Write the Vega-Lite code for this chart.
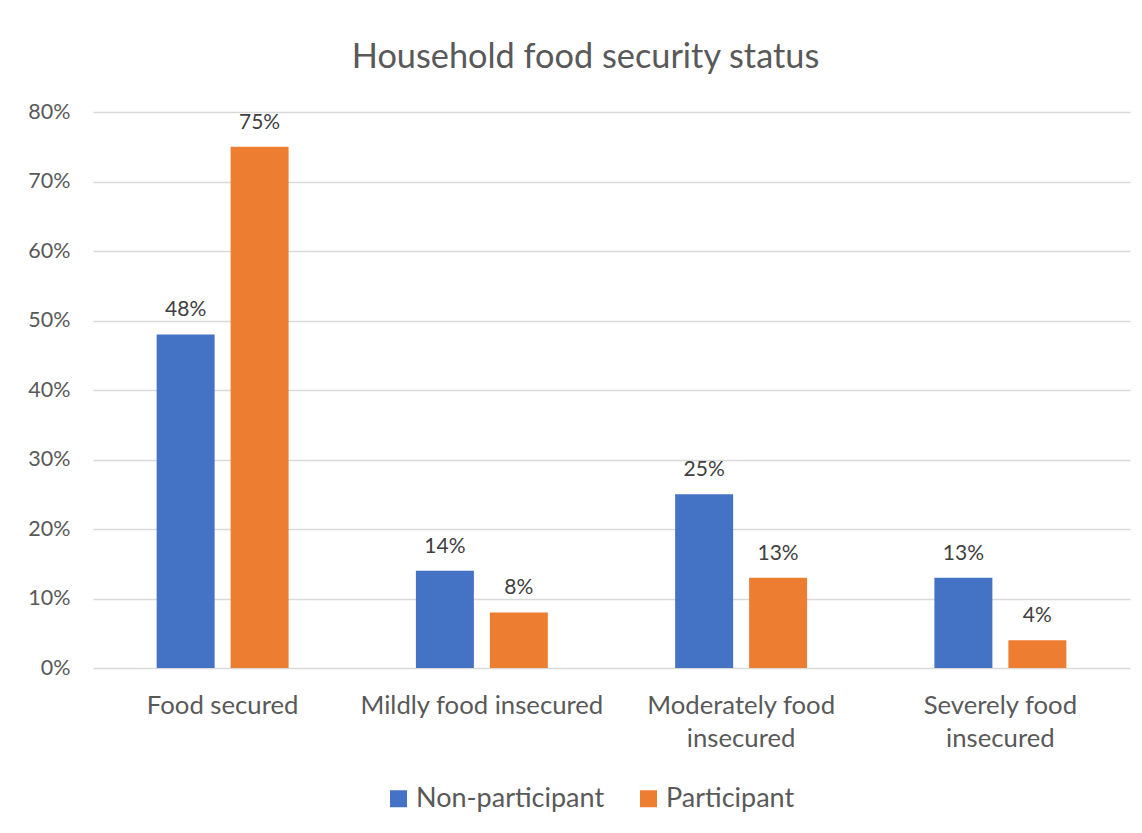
{
  "$schema": "https://vega.github.io/schema/vega-lite/v6.json",
  "width": 1037,
  "height": 556,
  "autosize": {"type": "none"},
  "padding": {"left": 93, "top": 112, "right": 12, "bottom": 165},
  "background": "white",
  "title": {
    "text": "Household food security status",
    "font": "Lato",
    "fontSize": 34.3,
    "fontWeight": "normal",
    "color": "#595959",
    "anchor": "middle",
    "offset": 26,
    "dx": -26
  },
  "data": {
    "values": [
      {"status": "Food secured", "group": "Non-participant", "value": 0.48},
      {"status": "Food secured", "group": "Participant", "value": 0.75},
      {"status": "Mildly food insecured", "group": "Non-participant", "value": 0.14},
      {"status": "Mildly food insecured", "group": "Participant", "value": 0.08},
      {"status": "Moderately food insecured", "group": "Non-participant", "value": 0.25},
      {"status": "Moderately food insecured", "group": "Participant", "value": 0.13},
      {"status": "Severely food insecured", "group": "Non-participant", "value": 0.13},
      {"status": "Severely food insecured", "group": "Participant", "value": 0.04}
    ]
  },
  "encoding": {
    "x": {
      "field": "status",
      "type": "nominal",
      "sort": ["Food secured", "Mildly food insecured", "Moderately food insecured", "Severely food insecured"],
      "scale": {"paddingInner": 0.491, "paddingOuter": 0.2455},
      "axis": {
        "title": null,
        "labelAngle": 0,
        "domain": false,
        "ticks": false,
        "grid": false,
        "labelPadding": 25,
        "labelFont": "Lato",
        "labelFontSize": 25.7,
        "labelLineHeight": 33,
        "labelColor": "#595959",
        "labelLimit": 400,
        "labelExpr": "datum.label == 'Moderately food insecured' ? ['Moderately food', 'insecured'] : datum.label == 'Severely food insecured' ? ['Severely food', 'insecured'] : datum.label"
      }
    },
    "xOffset": {
      "field": "group",
      "type": "nominal",
      "sort": ["Non-participant", "Participant"],
      "scale": {"paddingInner": 0.216, "paddingOuter": 0}
    },
    "y": {
      "field": "value",
      "type": "quantitative",
      "scale": {"domain": [0, 0.8], "nice": false},
      "axis": {
        "title": null,
        "values": [0, 0.1, 0.2, 0.3, 0.4, 0.5, 0.6, 0.7, 0.8],
        "format": ".0%",
        "domain": false,
        "ticks": false,
        "grid": true,
        "gridColor": "#d9d9d9",
        "gridWidth": 1.5,
        "labelPadding": 23,
        "labelFont": "Lato",
        "labelFontSize": 21.5,
        "labelColor": "#595959"
      }
    }
  },
  "layer": [
    {
      "mark": {"type": "bar"},
      "encoding": {
        "color": {
          "field": "group",
          "type": "nominal",
          "sort": ["Non-participant", "Participant"],
          "scale": {"domain": ["Non-participant", "Participant"], "range": ["#4472C4", "#ED7D31"]},
          "legend": {
            "title": null,
            "orient": "none",
            "legendX": 292,
            "legendY": 673,
            "direction": "horizontal",
            "symbolType": "square",
            "symbolSize": 289,
            "symbolStrokeWidth": 0,
            "symbolOpacity": 1,
            "labelFont": "Lato",
            "labelFontSize": 27,
            "labelColor": "#595959",
            "labelOffset": 4,
            "columnPadding": 30,
            "padding": 0,
            "labelLimit": 400
          }
        }
      }
    },
    {
      "mark": {
        "type": "text",
        "baseline": "alphabetic",
        "dy": -18,
        "font": "Lato",
        "fontSize": 21,
        "color": "#404040"
      },
      "encoding": {
        "text": {"field": "value", "type": "quantitative", "format": ".0%"}
      }
    }
  ],
  "config": {
    "view": {"stroke": null}
  }
}
